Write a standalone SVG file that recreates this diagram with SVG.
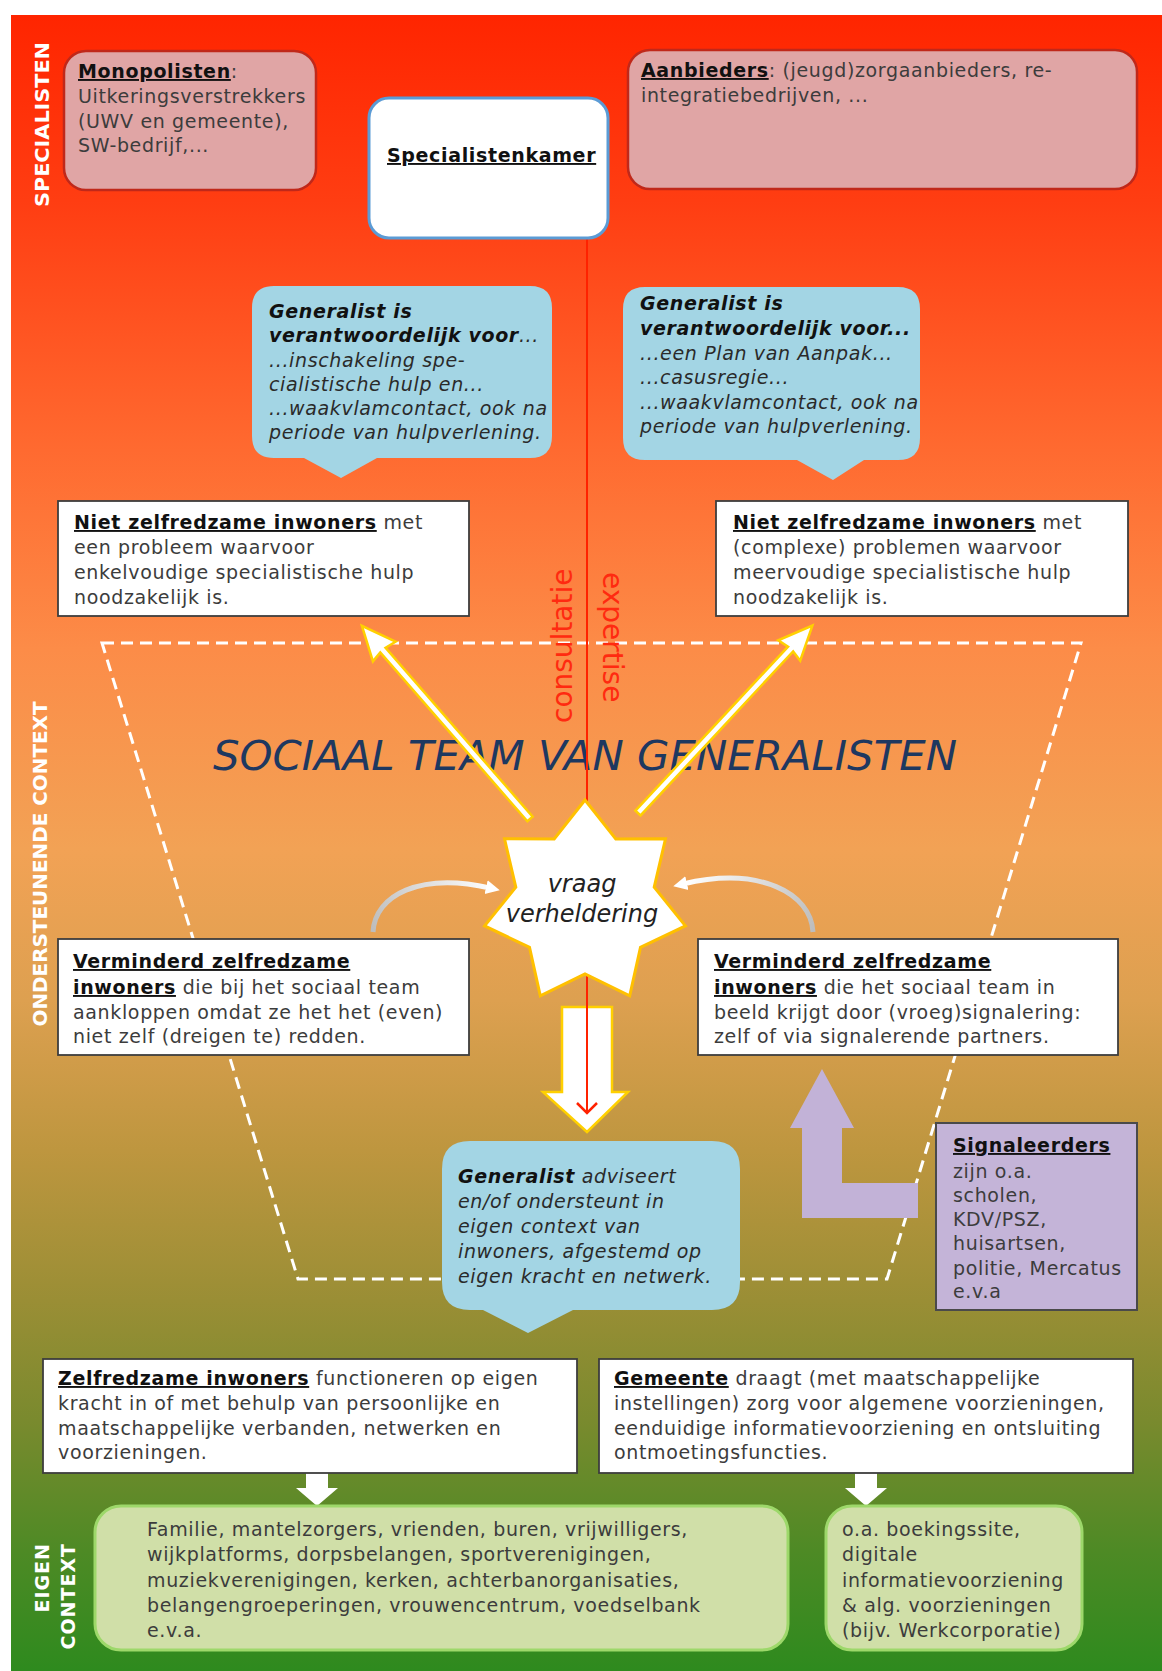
<svg xmlns="http://www.w3.org/2000/svg" width="1162" height="1671" viewBox="0 0 1162 1671">
<defs>
<linearGradient id="bg" x1="0" y1="0" x2="0" y2="1">
<stop offset="0" stop-color="#FF2500"/>
<stop offset="0.112" stop-color="#FF3D12"/>
<stop offset="0.263" stop-color="#FF6A30"/>
<stop offset="0.383" stop-color="#FC8C48"/>
<stop offset="0.504" stop-color="#F2A255"/>
<stop offset="0.595" stop-color="#DDA050"/>
<stop offset="0.685" stop-color="#BE963F"/>
<stop offset="0.776" stop-color="#9A8E35"/>
<stop offset="0.848" stop-color="#7A8A2E"/>
<stop offset="0.927" stop-color="#4E8A25"/>
<stop offset="1" stop-color="#2E8A1E"/>
</linearGradient>
<linearGradient id="gl" gradientUnits="userSpaceOnUse" x1="373" y1="932" x2="495" y2="885">
<stop offset="0" stop-color="#BDBDBD"/><stop offset="1" stop-color="#FFFFFF"/>
</linearGradient>
<linearGradient id="gr" gradientUnits="userSpaceOnUse" x1="813" y1="932" x2="685" y2="882">
<stop offset="0" stop-color="#BDBDBD"/><stop offset="1" stop-color="#FFFFFF"/>
</linearGradient>
<path id="yarr" d="M0,-3.5 L224,-3.5 L222,-15 L256,0 L222,15 L224,3.5 L0,3.5 Z"/>
<marker id="chev" markerUnits="userSpaceOnUse" markerWidth="24" markerHeight="24" refX="18" refY="12" orient="auto" viewBox="0 0 24 24">
<polyline points="8,2 18,12 8,22" fill="none" stroke="#FF2200" stroke-width="2.5"/>
</marker>
<marker id="wh" markerUnits="userSpaceOnUse" markerWidth="16" markerHeight="16" refX="4" refY="8" orient="auto" viewBox="0 0 16 16">
<polygon points="0,1 14,8 0,15" fill="#FFFFFF"/>
</marker>
</defs>
<style>
.t{font-family:"DejaVu Sans",Verdana,sans-serif;font-size:19px;letter-spacing:0.65px;fill:#3c3c3c}
.b{font-weight:bold;fill:#111}
.u{text-decoration:underline}
.i{font-style:italic;fill:#2a2a2a}
.bi{font-style:italic;font-weight:bold;fill:#111}
.lab{font-family:"DejaVu Sans",Verdana,sans-serif;font-weight:bold;fill:#FFFFFF}
.pink{fill:#E0A5A5;stroke:#C0281A;stroke-width:2.5}
.wbox{fill:#FFFFFF;stroke:#3d3d3d;stroke-width:1.8}
.bub{fill:#A3D5E4}
.green{fill:#D0DFA8;stroke:#9DD86A;stroke-width:3}
.yel{fill:#FFFFFF;stroke:#FFD000;stroke-width:2.5}
.red{font-family:"DejaVu Sans",Verdana,sans-serif;font-size:28px;fill:#FF2A10}
</style>

<rect x="11" y="15" width="1151" height="1656" fill="url(#bg)"/>

<g id="labels">
<text class="lab" font-size="19.5" transform="translate(49,124.5) rotate(-90)" text-anchor="middle" textLength="165" lengthAdjust="spacingAndGlyphs">SPECIALISTEN</text>
<text class="lab" font-size="19" transform="translate(47,864) rotate(-90)" text-anchor="middle" textLength="325" lengthAdjust="spacingAndGlyphs">ONDERSTEUNENDE CONTEXT</text>
<text class="lab" font-size="19" letter-spacing="1" transform="translate(49,1543) rotate(-90)" text-anchor="end">EIGEN</text>
<text class="lab" font-size="19" letter-spacing="1" transform="translate(75,1543) rotate(-90)" text-anchor="end">CONTEXT</text>
</g>

<g id="team-zone">
<path d="M102,643 H1081 L887,1279 H298 Z" fill="none" stroke="#FFFFFF" stroke-width="3" stroke-dasharray="12 7"/>
<text x="585" y="770" font-family="DejaVu Sans, Verdana, sans-serif" font-size="40" font-style="italic" fill="#1E3860" text-anchor="middle" textLength="744" lengthAdjust="spacingAndGlyphs">SOCIAAL TEAM VAN GENERALISTEN</text>
</g>

<g id="connectors">
<use href="#yarr" class="yel" transform="translate(530,819) rotate(-131.04)"/>
<use href="#yarr" class="yel" transform="translate(638,813) rotate(-47.06)"/>
<path d="M373,932 C375,895 420,872 490,888" fill="none" stroke="url(#gl)" stroke-width="5" marker-end="url(#wh)"/>
<path d="M813,932 C811,893 760,866 683,884" fill="none" stroke="url(#gr)" stroke-width="5" marker-end="url(#wh)"/>
<polygon class="yel" stroke-width="3" points="562,1007 612,1007 612,1092 628,1092 587,1132 543,1092 562,1092"/>
<line x1="587" y1="239" x2="587" y2="1113" stroke="#FF2200" stroke-width="2" marker-end="url(#chev)"/>
<text class="red" transform="translate(572,723) rotate(-90)">consultatie</text>
<text class="red" transform="translate(603,572) rotate(90)">expertise</text>
<polygon fill="#FFFFFF" points="306,1473 328,1473 328,1488 338,1488 317,1506 296,1488 306,1488"/>
<polygon fill="#FFFFFF" points="855,1473 877,1473 877,1488 887,1488 866,1506 845,1488 855,1488"/>
<polygon fill="#C2B2D7" points="822,1069 854,1128 842,1128 842,1183 918,1183 918,1218 802,1218 802,1128 790,1128"/>
</g>

<g id="star">
<polygon points="585,800 615.8,839 665.5,838.8 654.2,887.2 685.4,925.9 640.5,947.3 629.7,995.8 585,974 540.3,995.8 529.5,947.3 484.6,925.9 515.8,887.2 504.5,838.8 554.2,839" fill="#FFFFFF" stroke="#FFC000" stroke-width="3" stroke-linejoin="miter"/>
<text font-family="DejaVu Sans, Verdana, sans-serif" font-size="24" font-style="italic" fill="#222" text-anchor="middle"><tspan x="582" y="892">vraag</tspan><tspan x="582" y="922">verheldering</tspan></text>
</g>

<g id="monopolisten">
<rect class="pink" x="64" y="51" width="252" height="139" rx="22"/>
<text class="t"><tspan x="78" y="78"><tspan class="b u">Monopolisten</tspan>:</tspan><tspan x="78" y="103">Uitkeringsverstrekkers</tspan><tspan x="78" y="128">(UWV en gemeente),</tspan><tspan x="78" y="152">SW-bedrijf,...</tspan></text>
</g>

<g id="specialistenkamer">
<rect x="369" y="98" width="239" height="140" rx="20" fill="#FFFFFF" stroke="#5B9BD5" stroke-width="3"/>
<text class="t b u" x="387" y="162">Specialistenkamer</text>
</g>

<g id="aanbieders">
<rect class="pink" x="628" y="50" width="509" height="139" rx="22"/>
<text class="t"><tspan x="641" y="77"><tspan class="b u">Aanbieders</tspan>: (jeugd)zorgaanbieders, re-</tspan><tspan x="641" y="102">integratiebedrijven, ...</tspan></text>
</g>

<g id="bubble-left">
<path class="bub" d="M274,286 H530 Q552,286 552,308 V436 Q552,458 530,458 H377 L341,478 L304,458 H274 Q252,458 252,436 V308 Q252,286 274,286 Z"/>
<text class="t i"><tspan x="269" y="318" class="bi">Generalist is</tspan><tspan x="269" y="342"><tspan class="bi">verantwoordelijk voor</tspan>...</tspan><tspan x="269" y="367">...inschakeling spe-</tspan><tspan x="269" y="391">cialistische hulp en...</tspan><tspan x="269" y="415">...waakvlamcontact, ook na</tspan><tspan x="269" y="439">periode van hulpverlening.</tspan></text>
</g>

<g id="bubble-right">
<path class="bub" d="M645,287 H898 Q920,287 920,309 V438 Q920,460 898,460 H864 L833,480 L797,460 H645 Q623,460 623,438 V309 Q623,287 645,287 Z"/>
<text class="t i"><tspan x="640" y="310" class="bi">Generalist is</tspan><tspan x="640" y="335" class="bi">verantwoordelijk voor...</tspan><tspan x="640" y="360">...een Plan van Aanpak...</tspan><tspan x="640" y="384">...casusregie...</tspan><tspan x="640" y="409">...waakvlamcontact, ook na</tspan><tspan x="640" y="433">periode van hulpverlening.</tspan></text>
</g>

<g id="niet-enkel">
<rect class="wbox" x="58" y="501" width="411" height="115"/>
<text class="t"><tspan x="74" y="529"><tspan class="b u">Niet zelfredzame inwoners</tspan> met</tspan><tspan x="74" y="554">een probleem waarvoor</tspan><tspan x="74" y="579">enkelvoudige specialistische hulp</tspan><tspan x="74" y="604">noodzakelijk is.</tspan></text>
</g>

<g id="niet-meer">
<rect class="wbox" x="716" y="501" width="412" height="115"/>
<text class="t"><tspan x="733" y="529"><tspan class="b u">Niet zelfredzame inwoners</tspan> met</tspan><tspan x="733" y="554">(complexe) problemen waarvoor</tspan><tspan x="733" y="579">meervoudige specialistische hulp</tspan><tspan x="733" y="604">noodzakelijk is.</tspan></text>
</g>

<g id="verminderd-left">
<rect class="wbox" x="58" y="939" width="411" height="116"/>
<text class="t"><tspan x="73" y="968" class="b u">Verminderd zelfredzame</tspan><tspan x="73" y="994"><tspan class="b u">inwoners</tspan> die bij het sociaal team</tspan><tspan x="73" y="1019">aankloppen omdat ze het het (even)</tspan><tspan x="73" y="1043">niet zelf (dreigen te) redden.</tspan></text>
</g>

<g id="verminderd-right">
<rect class="wbox" x="698" y="939" width="420" height="116"/>
<text class="t"><tspan x="714" y="968" class="b u">Verminderd zelfredzame</tspan><tspan x="714" y="994"><tspan class="b u">inwoners</tspan> die het sociaal team in</tspan><tspan x="714" y="1019">beeld krijgt door (vroeg)signalering:</tspan><tspan x="714" y="1043">zelf of via signalerende partners.</tspan></text>
</g>

<g id="bubble-bottom">
<path class="bub" d="M470,1141 H712 Q740,1141 740,1169 V1282 Q740,1310 712,1310 H573 L528,1333 L483,1310 H470 Q442,1310 442,1282 V1169 Q442,1141 470,1141 Z"/>
<text class="t i"><tspan x="458" y="1183"><tspan class="bi">Generalist</tspan> adviseert</tspan><tspan x="458" y="1208">en/of ondersteunt in</tspan><tspan x="458" y="1233">eigen context van</tspan><tspan x="458" y="1258">inwoners, afgestemd op</tspan><tspan x="458" y="1283">eigen kracht en netwerk.</tspan></text>
</g>

<g id="signaleerders">
<rect x="936" y="1123" width="201" height="187" fill="#C4B4D8" stroke="#4a4a4a" stroke-width="2"/>
<text class="t"><tspan x="953" y="1152" class="b u">Signaleerders</tspan><tspan x="953" y="1178">zijn o.a.</tspan><tspan x="953" y="1202">scholen,</tspan><tspan x="953" y="1226">KDV/PSZ,</tspan><tspan x="953" y="1250">huisartsen,</tspan><tspan x="953" y="1275">politie, Mercatus</tspan><tspan x="953" y="1298">e.v.a</tspan></text>
</g>

<g id="zelfredzame">
<rect class="wbox" x="43" y="1359" width="534" height="114"/>
<text class="t"><tspan x="58" y="1385"><tspan class="b u">Zelfredzame inwoners</tspan> functioneren op eigen</tspan><tspan x="58" y="1410">kracht in of met behulp van persoonlijke en</tspan><tspan x="58" y="1435">maatschappelijke verbanden, netwerken en</tspan><tspan x="58" y="1459">voorzieningen.</tspan></text>
</g>

<g id="gemeente">
<rect class="wbox" x="599" y="1359" width="534" height="114"/>
<text class="t"><tspan x="614" y="1385"><tspan class="b u">Gemeente</tspan> draagt (met maatschappelijke</tspan><tspan x="614" y="1410">instellingen) zorg voor algemene voorzieningen,</tspan><tspan x="614" y="1435">eenduidige informatievoorziening en ontsluiting</tspan><tspan x="614" y="1459">ontmoetingsfuncties.</tspan></text>
</g>

<g id="eigen-netwerk">
<rect class="green" x="95" y="1506" width="693" height="144" rx="26"/>
<text class="t"><tspan x="147" y="1536">Familie, mantelzorgers, vrienden, buren, vrijwilligers,</tspan><tspan x="147" y="1561">wijkplatforms, dorpsbelangen, sportverenigingen,</tspan><tspan x="147" y="1587">muziekverenigingen, kerken, achterbanorganisaties,</tspan><tspan x="147" y="1612">belangengroeperingen, vrouwencentrum, voedselbank</tspan><tspan x="147" y="1637">e.v.a.</tspan></text>
</g>

<g id="voorzieningen">
<rect class="green" x="826" y="1506" width="256" height="144" rx="26"/>
<text class="t"><tspan x="842" y="1536">o.a. boekingssite,</tspan><tspan x="842" y="1561">digitale</tspan><tspan x="842" y="1587">informatievoorziening</tspan><tspan x="842" y="1612">&amp; alg. voorzieningen</tspan><tspan x="842" y="1637">(bijv. Werkcorporatie)</tspan></text>
</g>
</svg>
